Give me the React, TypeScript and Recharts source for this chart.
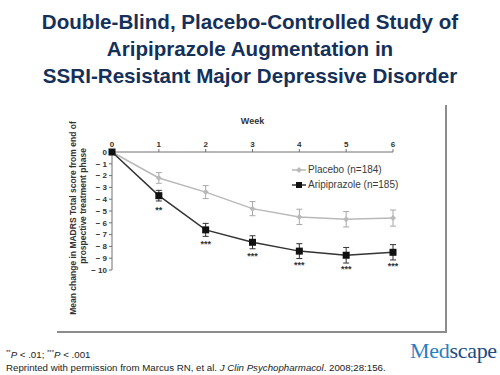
import React from "react";
import {
  ErrorBar,
  LabelList,
  Line,
  LineChart,
  XAxis,
  YAxis,
} from "recharts";

const weeks = [0, 1, 2, 3, 4, 5, 6];
const placebo = [0, -2.2, -3.4, -4.8, -5.5, -5.7, -5.6];
const placeboErr = [0, 0.45, 0.55, 0.6, 0.65, 0.65, 0.68];
const aripiprazole = [0, -3.7, -6.6, -7.65, -8.4, -8.75, -8.5];
const aripiprazoleErr = [0, 0.45, 0.55, 0.55, 0.63, 0.66, 0.65];
const significance = ["", "**", "***", "***", "***", "***", "***"];
const yTicks = [0, -1, -2, -3, -4, -5, -6, -7, -8, -9, -10];

const SANS = "'Liberation Sans', Arial, sans-serif";
const PLACEBO_COLOR = "#b9b9b9";
const ARIP_COLOR = "#333333";
const AXIS_COLOR = "#707070";

const data = weeks.map((w, i) => ({
  week: w,
  placebo: placebo[i],
  placeboErr: placeboErr[i],
  arip: aripiprazole[i],
  aripErr: aripiprazoleErr[i],
  sig: significance[i],
}));

const tickStyle = { fontSize: 8, fontWeight: 700, fill: "#333", fontFamily: SANS };

function PlaceboDot(props: any) {
  const { cx, cy } = props;
  return (
    <path
      d={`M${cx},${cy - 3}L${cx + 3},${cy}L${cx},${cy + 3}L${cx - 3},${cy}Z`}
      fill={PLACEBO_COLOR}
    />
  );
}

function AripDot(props: any) {
  const { cx, cy } = props;
  return <rect x={cx - 3.5} y={cy - 3.5} width={7} height={7} fill="#111" />;
}

function StarLabel(props: any) {
  const { x, y, value } = props;
  if (!value) return null;
  return (
    <text
      x={x}
      y={y + 17}
      textAnchor="middle"
      fontSize={9}
      fontWeight={700}
      fill="#333"
      fontFamily={SANS}
    >
      {value}
    </text>
  );
}

function LegendBox() {
  const row = (label: string, color: string, square: boolean) => (
    <div style={{ display: "flex", alignItems: "center", height: 15 }}>
      <svg width={14} height={10} style={{ marginRight: 2 }}>
        <line x1={0} y1={5} x2={14} y2={5} stroke={color} strokeWidth={1.5} />
        {square ? (
          <rect x={4} y={2} width={6} height={6} fill="#111" />
        ) : (
          <path d="M7,2L10,5L7,8L4,5Z" fill={color} />
        )}
      </svg>
      <span>{label}</span>
    </div>
  );
  return (
    <div
      style={{
        position: "absolute",
        left: 292,
        top: 162,
        fontFamily: SANS,
        fontSize: 10,
        color: "#3a3a3a",
      }}
    >
      {row("Placebo (n=184)", PLACEBO_COLOR, false)}
      {row("Aripiprazole (n=185)", ARIP_COLOR, true)}
    </div>
  );
}

export default function App() {
  return (
    <div
      style={{
        position: "absolute",
        left: 0,
        top: 0,
        width: 500,
        height: 375,
        background: "#fff",
        fontFamily: SANS,
      }}
    >
      <div
        style={{
          position: "absolute",
          top: 8,
          left: 0,
          width: 500,
          textAlign: "center",
          color: "#15315a",
          fontWeight: 700,
          fontSize: 20.6,
          lineHeight: "27px",
        }}
      >
        Double-Blind, Placebo-Controlled Study of
        <br />
        Aripiprazole Augmentation in
        <br />
        SSRI-Resistant Major Depressive Disorder
      </div>

      <div
        style={{
          position: "absolute",
          left: 57,
          top: 105,
          width: 388,
          height: 226,
          borderRight: "2px solid #8c8c8c",
          borderBottom: "2px solid #8c8c8c",
        }}
      />

      <div
        style={{
          position: "absolute",
          left: 73,
          top: 218,
          transform: "translate(-50%, -50%) rotate(-90deg)",
          whiteSpace: "nowrap",
          fontSize: 8.5,
          fontWeight: 700,
          color: "#333",
        }}
      >
        Mean change in MADRS Total score from end of
      </div>
      <div
        style={{
          position: "absolute",
          left: 83,
          top: 206,
          transform: "translate(-50%, -50%) rotate(-90deg)",
          whiteSpace: "nowrap",
          fontSize: 8.5,
          fontWeight: 700,
          color: "#333",
        }}
      >
        prospective treatment phase
      </div>

      <div style={{ position: "absolute", left: 0, top: 0 }}>
        <LineChart
          width={500}
          height={375}
          data={data}
          margin={{ top: 132, right: 107, bottom: 105, left: 82 }}
        >
          <XAxis
            dataKey="week"
            type="number"
            orientation="top"
            domain={[0, 6]}
            ticks={weeks}
            height={20}
            tickSize={3}
            tickMargin={2}
            tick={tickStyle}
            stroke={AXIS_COLOR}
            label={{
              value: "Week",
              position: "top",
              offset: 8,
              style: { fontSize: 9, fontWeight: 700, fill: "#333", fontFamily: SANS },
            }}
          />
          <YAxis
            type="number"
            domain={[-10, 0]}
            ticks={yTicks}
            width={30}
            tickSize={3}
            tickMargin={2}
            tick={tickStyle}
            stroke={AXIS_COLOR}
            interval={0}
            tickFormatter={(v: number) => (v === 0 ? "0" : `− ${Math.abs(v)}`)}
          />
          <Line
            dataKey="placebo"
            stroke={PLACEBO_COLOR}
            strokeWidth={1.5}
            dot={<PlaceboDot />}
            isAnimationActive={false}
            name="Placebo (n=184)"
          >
            <ErrorBar dataKey="placeboErr" width={3} stroke="#a8a8a8" strokeWidth={1} direction="y" />
          </Line>
          <Line
            dataKey="arip"
            stroke={ARIP_COLOR}
            strokeWidth={1.5}
            dot={<AripDot />}
            isAnimationActive={false}
            name="Aripiprazole (n=185)"
          >
            <ErrorBar dataKey="aripErr" width={3} stroke="#333" strokeWidth={1} direction="y" />
            <LabelList dataKey="sig" content={<StarLabel />} />
          </Line>
        </LineChart>
      </div>

      <LegendBox />

      <div
        style={{
          position: "absolute",
          left: 6,
          top: 346,
          fontSize: 9.7,
          lineHeight: "13px",
          color: "#222",
        }}
      >
        <sup style={{ fontSize: 6 }}>**</sup>
        <i>P</i> &lt; .01; <sup style={{ fontSize: 6 }}>***</sup>
        <i>P</i> &lt; .001
        <br />
        Reprinted with permission from Marcus RN, et al. <i>J Clin Psychopharmacol</i>.
        2008;28:156.
      </div>

      <div
        style={{
          position: "absolute",
          left: 410,
          top: 338,
          fontFamily: "'Liberation Serif', 'Times New Roman', serif",
          fontSize: 22,
          lineHeight: "26px",
          letterSpacing: -0.3,
        }}
      >
        <span style={{ color: "#2a7fc2" }}>Med</span>
        <span style={{ color: "#1d4b80" }}>scape</span>
      </div>
    </div>
  );
}
